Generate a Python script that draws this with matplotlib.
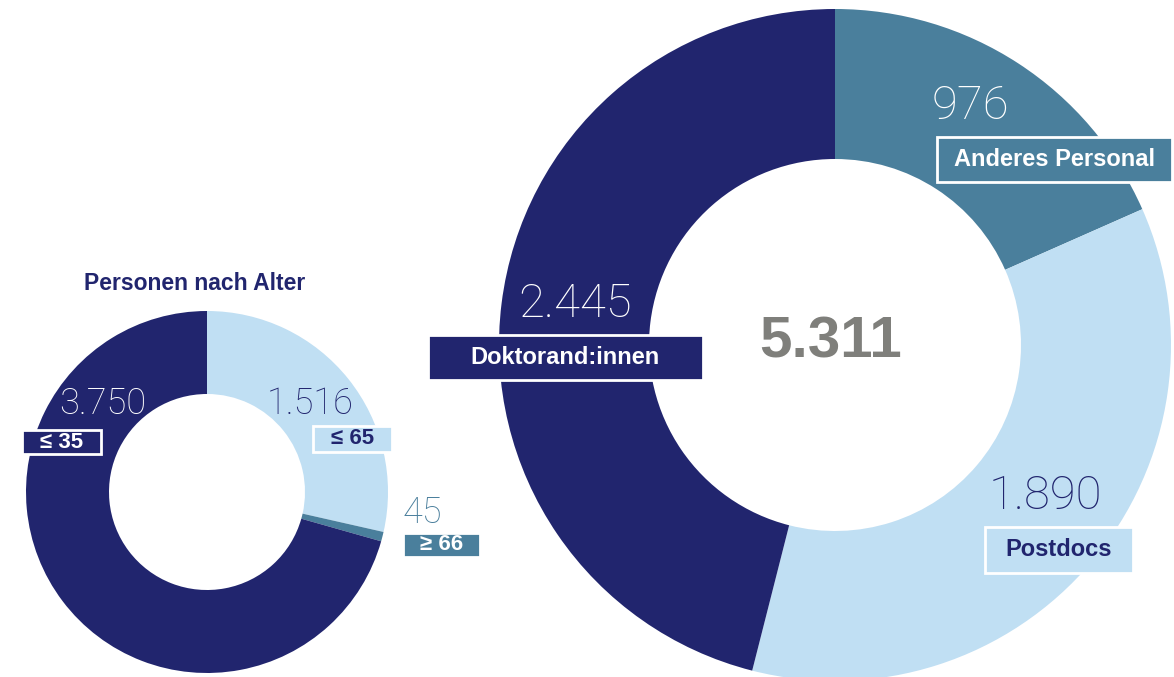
import matplotlib.pyplot as plt
from matplotlib.patches import Rectangle

# Data
age_labels = ['≤ 65', '≥ 66', '≤ 35']
age_values = [1516, 45, 3750]
staff_labels = ['Anderes Personal', 'Postdocs', 'Doktorand:innen']
staff_values = [976, 1890, 2445]
total = 5311

navy = '#21256e'
steel = '#4a7f9c'
light = '#c0dff3'
grey = '#7f7f7b'

W, H = 1174, 677


def Y(y):
    # image coordinates (from top) to data coordinates
    return H - y


fig = plt.figure(figsize=(W / 100, H / 100), dpi=100)
ax = fig.add_axes([0, 0, 1, 1])

# Small donut: persons by age
ax.pie(age_values, colors=[light, steel, navy], startangle=90, counterclock=False,
       center=(207, Y(492)), radius=181,
       wedgeprops=dict(width=83, linewidth=0))

# Large donut: staff groups
ax.pie(staff_values, colors=[steel, light, navy], startangle=90, counterclock=False,
       center=(835, Y(345)), radius=336,
       wedgeprops=dict(width=150, linewidth=0))

ax.set_xlim(0, W)
ax.set_ylim(0, H)
ax.set_aspect('equal')
ax.axis('off')

num_font = dict(family='Roboto', fontweight='light')
box_font = dict(family='Liberation Sans', fontweight='bold')


def fmt(v):
    return f'{v:,}'.replace(',', '.')


def label(num, num_xy, num_color, text, box, fc, tc, num_size, box_size):
    x0, y0, x1, y1 = box
    ax.add_patch(Rectangle((x0, Y(y1)), x1 - x0, y1 - y0, facecolor=fc,
                           edgecolor='white', linewidth=2, zorder=3))
    ax.text((x0 + x1) / 2, Y((y0 + y1) / 2), text, color=tc, fontsize=box_size,
            ha='center', va='center', zorder=4, **box_font)
    ax.text(num_xy[0], Y(num_xy[1]), num, color=num_color, fontsize=num_size,
            ha='center', va='center', zorder=4, **num_font)


ax.text(195, Y(283), 'Personen nach Alter', color=navy, fontsize=16.5,
        ha='center', va='center', **box_font)

label(fmt(age_values[2]), (103, 404), 'white', age_labels[2],
      (22, 430, 101, 454), navy, 'white', 26, 16)
label(fmt(age_values[0]), (310, 404), navy, age_labels[0],
      (313, 426, 392, 452), light, navy, 26, 16)
label(fmt(age_values[1]), (422, 513), steel, age_labels[1],
      (403, 533, 480, 557), steel, 'white', 26, 16)

label(fmt(staff_values[0]), (970, 106), 'white', staff_labels[0],
      (937, 137, 1172, 182), steel, 'white', 34, 17)
label(fmt(staff_values[2]), (575, 304), 'white', staff_labels[2],
      (428, 335, 703, 380), navy, 'white', 34, 17)
label(fmt(staff_values[1]), (1045, 496), navy, staff_labels[1],
      (985, 527, 1133, 573), light, navy, 34, 17)

ax.text(831, Y(343), fmt(total), color=grey, fontsize=42,
        ha='center', va='center', **box_font)

fig.savefig('out.png', dpi=100)
